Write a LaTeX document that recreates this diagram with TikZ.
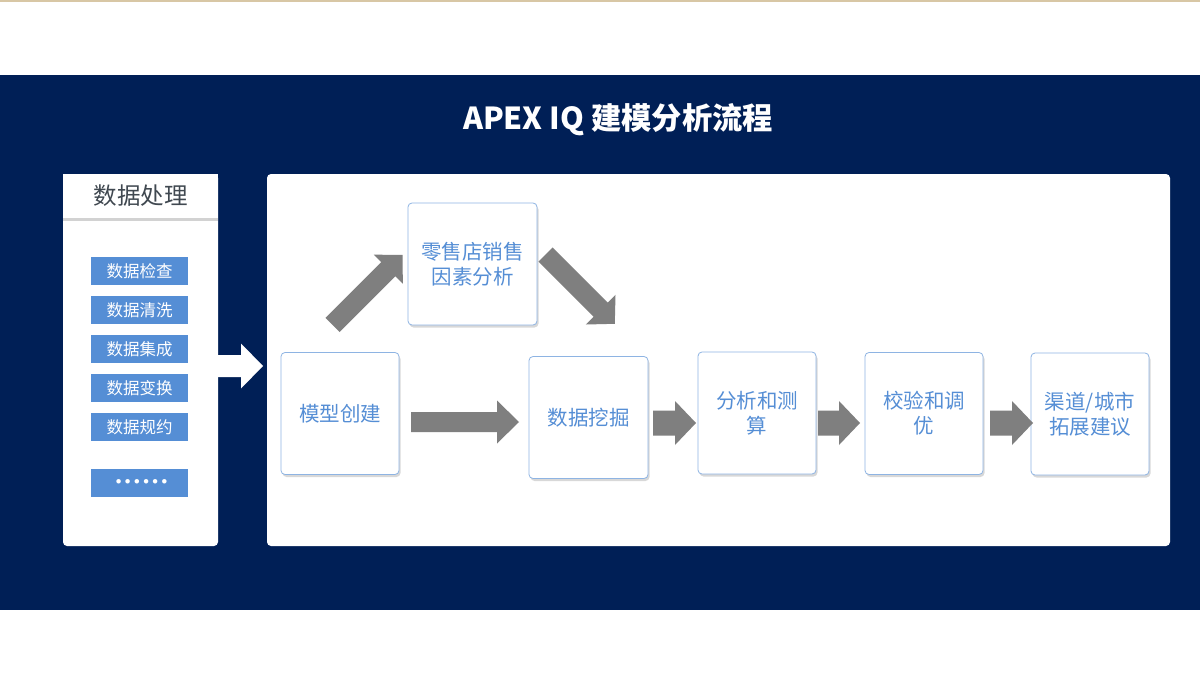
\documentclass[tikz,border=0pt]{standalone}
\usepackage{fontspec}
\setmainfont{Noto Sans CJK SC}
\newfontfamily\dejavu{DejaVu Sans}
\usetikzlibrary{shadows}
\definecolor{navy}{HTML}{001F56}
\definecolor{tanline}{HTML}{D8C7A5}
\definecolor{itemblue}{HTML}{558ED5}
\definecolor{boxborder}{HTML}{8EB4E3}
\definecolor{arrowgray}{HTML}{7F7F7F}
\definecolor{headgray}{HTML}{404850}
\tikzset{
  panel/.style={fill=white, rounded corners=4pt, draw=none},
  headbox/.style={fill=white, minimum width=155pt, minimum height=44pt, inner sep=0pt,
    text=headgray, font=\fontsize{23.5}{26}\selectfont,
    drop shadow={shadow xshift=0pt, shadow yshift=-3pt, opacity=0.35}},
  itembox/.style={fill=itemblue, minimum width=97pt, minimum height=28pt, inner sep=0pt,
    text=white, font=\fontsize{16.5}{18}\selectfont},
  stepbox/.style={fill=white, draw=boxborder, line width=0.8pt, rounded corners=4pt,
    minimum width=118pt, minimum height=122pt, inner sep=0pt, align=center,
    text=itemblue, font=\fontsize{20.5}{25}\selectfont,
    drop shadow={shadow xshift=1.5pt, shadow yshift=-2.5pt, opacity=0.3}},
  pics/barrow/.style n args={5}{code={
    \fill[#5] (0,-#2)--(#1-#4,-#2)--(#1-#4,-#3)--(#1,0)--(#1-#4,#3)--(#1-#4,#2)--(0,#2)--cycle;}},
}
\begin{document}
\begin{tikzpicture}[x=1pt,y=-1pt]
\useasboundingbox (0,0) rectangle (1200,677);
\fill[white] (0,0) rectangle (1200,677);
\fill[tanline] (0,0) rectangle (1200,2.5);
\fill[navy] (0,75) rectangle (1200,610);

\node[text=white, font=\bfseries\fontsize{30.3}{32}\selectfont] (title) at (618,120) {APEX IQ 建模分析流程};

% left panel
\fill[panel] (63,174) rectangle (218,546);
\node[headbox] (hdr) at (140.5,196) {数据处理};
\node[itembox] (i1) at (139.5,271) {数据检查};
\node[itembox] (i2) at (139.5,310) {数据清洗};
\node[itembox] (i3) at (139.5,349) {数据集成};
\node[itembox] (i4) at (139.5,388) {数据变换};
\node[itembox] (i5) at (139.5,427) {数据规约};
\node[itembox, font=\dejavu\fontsize{15.5}{16}\selectfont] (i6) at (139.5,483) {\kern4pt••••••};

% white arrow
\pic at (218,366) {barrow={45}{11}{22.5}{22}{white}};

% right panel
\fill[panel] (267,174) rectangle (1170,546);

\node[stepbox, minimum width=129pt] (retail) at (472.5,264) {零售店销售\\因素分析};
\node[stepbox] (model) at (340,413.5) {模型创建};
\node[stepbox, minimum width=119pt] (mining) at (588.5,417.5) {数据挖掘};
\node[stepbox] (analysis) at (757,413) {分析和测\\算};
\node[stepbox] (verify) at (924,413.5) {校验和调\\优};
\node[stepbox] (channel) at (1090,414) {渠道/城市\\拓展建议};

% gray block arrows
\pic[rotate=45] at (332.5,325) {barrow={99}{10}{20.5}{20}{arrowgray}};
\pic[rotate=-45] at (545.5,254.5) {barrow={98}{10}{21}{20}{arrowgray}};
\pic at (411,422) {barrow={108}{10}{21.5}{22}{arrowgray}};
\pic at (653,423) {barrow={43}{12.5}{22}{21}{arrowgray}};
\pic at (818,423) {barrow={42}{12.5}{22}{21}{arrowgray}};
\pic at (990,423) {barrow={43}{12.5}{22}{21}{arrowgray}};
\end{tikzpicture}
\end{document}
